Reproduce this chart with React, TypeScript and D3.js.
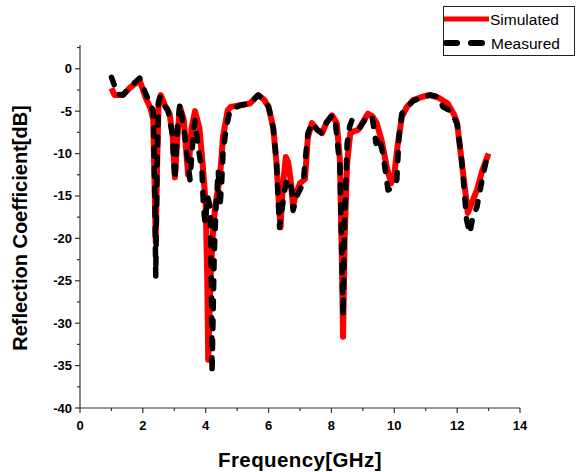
import { useEffect, useRef } from "react";
import * as d3 from "d3";

// Simulated S11 (red solid)
const simFreq = [
  1.0, 1.1, 1.37, 1.6, 1.9, 2.1, 2.25, 2.33, 2.38, 2.41, 2.45, 2.5, 2.57, 2.7, 2.85,
  2.95, 3.02, 3.1, 3.18, 3.3, 3.44, 3.55, 3.66, 3.8, 3.9, 4.0, 4.05, 4.08, 4.15, 4.25,
  4.35, 4.45, 4.55, 4.7, 4.8, 5.1, 5.4, 5.67, 5.85, 6.0, 6.15, 6.25, 6.33, 6.38, 6.45,
  6.55, 6.62, 6.7, 6.78, 6.85, 7.0, 7.16, 7.25, 7.38, 7.55, 7.7, 7.85, 8.02, 8.17, 8.27,
  8.33, 8.37, 8.42, 8.5, 8.6, 8.7, 8.85, 9.0, 9.16, 9.3, 9.44, 9.6, 9.76, 9.9, 10.0,
  10.1, 10.24, 10.4, 10.6, 10.9, 11.14, 11.4, 11.7, 11.9, 12.0, 12.15, 12.34, 12.5, 12.63,
  12.8, 13.0,
];
const simVal = [
  -2.3, -3.1, -3.1, -2.2, -1.4, -3.5, -4.7, -6, -15, -20.4, -12, -4, -3.1, -4.3, -5.3,
  -8, -12.8, -8, -4.5, -6, -12.5, -7, -5.0, -7, -11.1, -16, -25, -34.3, -25, -18,
  -15, -13, -8, -4.9, -4.5, -4.3, -4.1, -3.1, -3.6, -4.5, -7, -11, -16, -18.7, -14,
  -10.4, -11, -13, -16.3, -15, -13.5, -13, -8.1, -6.4, -7.2, -7.6, -6.3, -5.5, -6.4, -10.8,
  -22, -31.6, -20, -11.1, -7.6, -7.4, -7.2, -6.3, -5.3, -5.6, -6.4, -8.5, -11.6, -13.5, -12.5,
  -9.2, -5.7, -4.5, -3.7, -3.3, -3.1, -3.4, -4.1, -5.4, -6.4, -11.1, -17, -15.5, -14.3,
  -12, -10,
];

// Measured S11 (black dashed)
const measFreq = [
  1.0, 1.1, 1.2, 1.37, 1.6, 1.9, 2.1, 2.23, 2.33, 2.38, 2.41, 2.45, 2.5, 2.55, 2.7,
  2.8, 2.93, 3.02, 3.1, 3.18, 3.34, 3.5, 3.6, 3.66, 3.75, 3.88, 3.93, 3.98, 4.06, 4.14,
  4.18, 4.2, 4.27, 4.33, 4.4, 4.45, 4.5, 4.55, 4.65, 4.77, 5.1, 5.4, 5.67, 5.85, 6.0,
  6.15, 6.25, 6.3, 6.35, 6.45, 6.55, 6.65, 6.74, 6.78, 6.9, 7.1, 7.25, 7.38, 7.55, 7.7,
  7.85, 8.02, 8.12, 8.27, 8.33, 8.37, 8.42, 8.5, 8.58, 8.65, 8.75, 8.9, 9.0, 9.16, 9.3,
  9.42, 9.5, 9.64, 9.8, 9.95, 10.08, 10.15, 10.24, 10.4, 10.6, 10.9, 11.14, 11.4, 11.55,
  11.8, 12.0, 12.15, 12.3, 12.4, 12.5, 12.63, 12.8, 12.95,
];
const measVal = [
  -1.0, -2.0, -3, -3.1, -2.1, -1.1, -3, -4.1, -5, -15, -24.5, -12, -4, -3.3, -4.4,
  -4.9, -7.5, -13.1, -7, -4.1, -8.1, -13.1, -8, -6.1, -9, -12, -16.3, -18.2, -15, -16.3,
  -25, -35.9, -22, -16, -12, -16.3, -14, -10, -7, -4.9, -4.3, -4.1, -3.1, -3.6, -4.5,
  -7, -11, -15, -18.7, -16, -13.5, -13, -14.3, -16.7, -15, -13.5, -7.6, -6.4, -7.2, -7.6,
  -6.3, -5.5, -6.1, -11.6, -22, -29.2, -18, -8.8, -6.8, -6.1, -6.4, -7.0, -6.4, -5.5, -5.8,
  -8.8, -8.0, -10, -14.3, -14, -13.1, -8, -5.3, -4.5, -3.8, -3.3, -3.1, -3.3, -4.5,
  -5.0, -6.5, -11, -17.8, -19.4, -17.5, -16.3, -13, -10.4,
];

const xTicks = [0, 2, 4, 6, 8, 10, 12, 14];
const yTicks = [0, -5, -10, -15, -20, -25, -30, -35, -40];

export default function App() {
  const ref = useRef<SVGSVGElement>(null);

  useEffect(() => {
    document.body.style.margin = "0";
    const svg = d3.select(ref.current);
    svg.selectAll("*").remove();

    const font = "Arial, 'Liberation Sans', sans-serif";
    const axisColor = "#333";

    const x = d3.scaleLinear().domain([0, 14]).range([80, 520]);
    const y = d3.scaleLinear().domain([-40, 2.8]).range([408, 45]);

    // axes
    svg.append("line")
      .attr("x1", x(0)).attr("x2", x(14))
      .attr("y1", y(-40)).attr("y2", y(-40))
      .attr("stroke", axisColor).attr("stroke-width", 1.2);
    svg.append("line")
      .attr("x1", x(0)).attr("x2", x(0))
      .attr("y1", y(-40)).attr("y2", y(2.8))
      .attr("stroke", axisColor).attr("stroke-width", 1.2);

    // x ticks: major every 2, minor every 1
    d3.range(0, 14.01, 1).forEach(v => {
      const major = v % 2 === 0;
      svg.append("line")
        .attr("x1", x(v)).attr("x2", x(v))
        .attr("y1", y(-40)).attr("y2", y(-40) + (major ? 5 : 3))
        .attr("stroke", axisColor).attr("stroke-width", 1.2);
    });
    svg.append("g").selectAll("text")
      .data(xTicks).enter().append("text")
      .attr("x", d => x(d))
      .attr("y", y(-40) + 22)
      .attr("text-anchor", "middle")
      .attr("font-family", font).attr("font-weight", "bold").attr("font-size", 13)
      .text(d => d);

    // y ticks: major every 5, minor every 2.5
    d3.range(-40, 2.6, 2.5).forEach(v => {
      const major = Math.abs(v % 5) < 1e-9;
      svg.append("line")
        .attr("x1", x(0)).attr("x2", x(0) - (major ? 5 : 3))
        .attr("y1", y(v)).attr("y2", y(v))
        .attr("stroke", axisColor).attr("stroke-width", 1.2);
    });
    svg.append("g").selectAll("text")
      .data(yTicks).enter().append("text")
      .attr("x", x(0) - 8)
      .attr("y", d => y(d) + 4.5)
      .attr("text-anchor", "end")
      .attr("font-family", font).attr("font-weight", "bold").attr("font-size", 13)
      .text(d => d);

    // axis titles
    svg.append("text")
      .attr("x", 300).attr("y", 467)
      .attr("text-anchor", "middle")
      .attr("font-family", font).attr("font-weight", "bold").attr("font-size", 20.5)
      .attr("letter-spacing", 0.4)
      .text("Frequency[GHz]");
    svg.append("text")
      .attr("transform", `translate(27,228) rotate(-90)`)
      .attr("text-anchor", "middle")
      .attr("font-family", font).attr("font-weight", "bold").attr("font-size", 20)
      .text("Reflection Coefficient[dB]");

    const line = d3.line<[number, number]>()
      .x(d => x(d[0]))
      .y(d => y(d[1]));

    const sim = simFreq.map((f, i) => [f, simVal[i]] as [number, number]);
    const meas = measFreq.map((f, i) => [f, measVal[i]] as [number, number]);

    svg.append("path")
      .datum(sim)
      .attr("fill", "none")
      .attr("stroke", "#ff0000")
      .attr("stroke-width", 6)
      .attr("stroke-linejoin", "round")
      .attr("d", line);

    svg.append("path")
      .datum(meas)
      .attr("fill", "none")
      .attr("stroke", "#000")
      .attr("stroke-width", 5.5)
      .attr("stroke-linecap", "round")
      .attr("stroke-linejoin", "round")
      .attr("stroke-dasharray", "8,12")
      .attr("d", line);

    // legend
    const lg = svg.append("g");
    lg.append("rect")
      .attr("x", 443.5).attr("y", 6.5).attr("width", 131).attr("height", 49)
      .attr("fill", "#fff").attr("stroke", "#222").attr("stroke-width", 1);
    lg.append("line")
      .attr("x1", 444).attr("x2", 489).attr("y1", 19).attr("y2", 19)
      .attr("stroke", "#ff0000").attr("stroke-width", 5);
    lg.append("line")
      .attr("x1", 446).attr("x2", 486).attr("y1", 43).attr("y2", 43)
      .attr("stroke", "#000").attr("stroke-width", 6)
      .attr("stroke-linecap", "round")
      .attr("stroke-dasharray", "11,14");
    lg.append("text")
      .attr("x", 490).attr("y", 25)
      .attr("font-family", font).attr("font-size", 15.5)
      .text("Simulated");
    lg.append("text")
      .attr("x", 491).attr("y", 49)
      .attr("font-family", font).attr("font-size", 15.5)
      .text("Measured");
  }, []);

  return <svg ref={ref} width={576} height={472} style={{ display: "block" }}></svg>;
}
